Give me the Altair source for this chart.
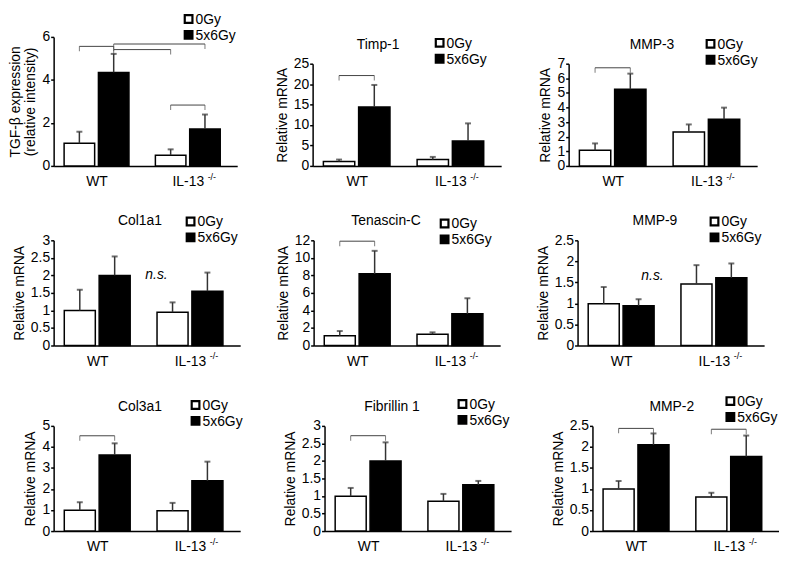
import altair as alt
import pandas as pd

FONT = "Liberation Sans"

panels = ["TGF-β", "Timp-1", "MMP-3", "Col1a1", "Tenascin-C", "MMP-9",
          "Col3a1", "Fibrillin 1", "MMP-2"]
panel_titles = ["", "Timp-1", "MMP-3", "Col1a1", "Tenascin-C", "MMP-9",
                "Col3a1", "Fibrillin 1", "MMP-2"]
groups = ["WT", "IL-13"]
doses = ["0Gy", "5x6Gy"]

# bar heights [WT, IL-13] per panel
mean_0gy = [[1.05, 0.50], [1.09, 1.55], [1.07, 2.33], [1.00, 0.95], [1.10, 1.28],
            [0.99, 1.46], [0.99, 0.96], [0.99, 0.85], [1.00, 0.81]]
mean_5x6 = [[4.35, 1.72], [14.4, 6.1], [5.25, 3.20], [2.00, 1.55], [8.18, 3.63],
            [0.945, 1.61], [3.62, 2.39], [2.00, 1.32], [2.05, 1.77]]
# upper error bar lengths
err_0gy = [[0.54, 0.27], [0.46, 0.65], [0.47, 0.51], [0.59, 0.28], [0.55, 0.22],
           [0.40, 0.45], [0.38, 0.38], [0.24, 0.21], [0.19, 0.10]]
err_5x6 = [[0.86, 0.67], [5.4, 4.3], [1.07, 0.79], [0.54, 0.53], [2.62, 1.76],
           [0.155, 0.34], [0.55, 0.91], [0.53, 0.11], [0.27, 0.50]]

y_max = [6, 25, 7, 3, 12, 2.5, 5, 3, 2.5]
y_step = [2, 5, 1, 0.5, 2, 0.5, 1, 0.5, 0.5]
y_titles = [["TGF-β expression", "(relative intensity)"]] + ["Relative mRNA"] * 8

# significance brackets: panel, from bar, to bar, height
br_panel = ["TGF-β", "TGF-β", "TGF-β", "TGF-β", "Timp-1", "MMP-3", "Tenascin-C",
            "Col3a1", "Fibrillin 1", "MMP-2", "MMP-2"]
br_from = ["WT|0Gy", "WT|5x6Gy", "WT|5x6Gy", "IL-13|0Gy", "WT|0Gy", "WT|0Gy", "WT|0Gy",
           "WT|0Gy", "WT|0Gy", "WT|0Gy", "IL-13|0Gy"]
br_to = ["WT|5x6Gy", "IL-13|5x6Gy", "IL-13|0Gy", "IL-13|5x6Gy", "WT|5x6Gy", "WT|5x6Gy",
         "WT|5x6Gy", "WT|5x6Gy", "WT|5x6Gy", "WT|5x6Gy", "IL-13|5x6Gy"]
br_y = [5.56, 5.67, 5.41, 2.83, 22.1, 6.72, 11.9, 4.53, 2.72, 2.44, 2.42]

# "n.s." annotations
ns_panel = ["Col1a1", "MMP-9"]
ns_x = [2.2, 1.4]
ns_y = [2.0, 1.65]

# ---- layout (not data) ----
GAP = 2.66
HALF = 0.445
XDOM = [-0.75, 4.6]
layout = {
    "TGF-β":       dict(w=185, h=130, top=0,  lx=131, ly=-25, tx=None),
    "Timp-1":      dict(w=190, h=130, top=27, lx=123, ly=-1,  tx=66),
    "MMP-3":       dict(w=190, h=130, top=27, lx=138, ly=0,   tx=84),
    "Col1a1":      dict(w=188, h=106, top=0,  lx=133, ly=-26, tx=87),
    "Tenascin-C":  dict(w=188, h=106, top=0,  lx=127, ly=-24, tx=73),
    "MMP-9":       dict(w=188, h=106, top=0,  lx=133, ly=-26, tx=78),
    "Col3a1":      dict(w=188, h=106, top=0,  lx=138, ly=-28, tx=87),
    "Fibrillin 1": dict(w=188, h=106, top=0,  lx=134, ly=-29, tx=68),
    "MMP-2":       dict(w=188, h=106, top=0,  lx=134, ly=-32, tx=80),
}


def bar_pos(key):
    g, d = key.split("|")
    return groups.index(g) * GAP + doses.index(d)


def make_panel(i):
    name = panels[i]
    lay = layout[name]
    W, H = lay["w"], lay["h"]
    rows = []
    for gi, g in enumerate(groups):
        for di, d in enumerate(doses):
            m = (mean_0gy if di == 0 else mean_5x6)[i][gi]
            e = (err_0gy if di == 0 else err_5x6)[i][gi]
            rows.append(dict(group=g, dose=d, pos=gi * GAP + di, mean=m, top=m + e))
    df = pd.DataFrame(rows)

    xsc = alt.Scale(domain=XDOM, nice=False, zero=False)
    ysc = alt.Scale(domain=[0, y_max[i]], nice=False, range=[H, lay["top"]])
    fsc = alt.Scale(domain=doses, range=["white", "black"])
    n = int(round(y_max[i] / y_step[i]))
    yvals = [round(k * y_step[i], 3) for k in range(n + 1)]
    yaxis = alt.Axis(values=yvals, format="~g", title=y_titles[i], grid=False,
                     tickSize=3, labelPadding=1, titlePadding=4)
    xaxis = alt.Axis(values=[0.5, GAP + 0.5], title=None, grid=False, ticks=False,
                     labelExpr="datum.value < 2 ? 'WT' : 'IL-13'", labelPadding=9,
                     labelAngle=0)

    def X(f):
        return alt.X(f, scale=xsc, axis=xaxis)

    def Y(f):
        return alt.Y(f, scale=ysc, axis=yaxis)

    base = alt.Chart(df)
    bars = base.transform_calculate(
        x1=f"datum.pos - {HALF}", x2=f"datum.pos + {HALF}", zero="0"
    ).mark_bar(stroke="black", strokeWidth=1.5).encode(
        x=X("x1:Q"), x2="x2:Q", y=Y("mean:Q"), y2="zero:Q",
        fill=alt.Fill("dose:N", scale=fsc, legend=None),
    )
    errs = base.mark_rule(color="#333333", strokeWidth=1.5).encode(
        x=X("pos:Q"), y=Y("mean:Q"), y2="top:Q")
    caps = base.mark_tick(orient="horizontal", size=6, thickness=2, color="#333333").encode(
        x=X("pos:Q"), y=Y("top:Q"))
    layers = [bars, errs, caps]

    bsel = [k for k, p in enumerate(br_panel) if p == name]
    if bsel:
        dfb = pd.DataFrame(dict(xa=[bar_pos(br_from[k]) for k in bsel],
                                xb=[bar_pos(br_to[k]) for k in bsel],
                                y=[br_y[k] for k in bsel]))
        bb = alt.Chart(dfb)
        layers.append(bb.mark_rule(color="#444444", strokeWidth=1).encode(
            x=X("xa:Q"), x2="xb:Q", y=Y("y:Q")))
        layers.append(bb.transform_fold(["xa", "xb"], as_=["end", "xe"]).mark_tick(
            orient="vertical", size=5, thickness=1, yOffset=2.5, color="#444444").encode(
            x=X("xe:Q"), y=Y("y:Q")))

    nsel = [k for k, p in enumerate(ns_panel) if p == name]
    if nsel:
        dfn = pd.DataFrame(dict(x=[ns_x[k] for k in nsel], y=[ns_y[k] for k in nsel],
                                t=["n.s."] * len(nsel)))
        layers.append(alt.Chart(dfn).mark_text(fontStyle="italic", fontSize=14, font=FONT,
                                               color="black").encode(
            x=X("x:Q"), y=Y("y:Q"), text="t:N"))

    # superscript of the knockout label
    dfs = pd.DataFrame(dict(x=[GAP + 0.5], t=["-/-"]))
    layers.append(alt.Chart(dfs).mark_text(fontSize=9, font=FONT, align="left",
                                           baseline="top", dx=20, color="black").encode(
        x=X("x:Q"), y=alt.value(H + 7), text="t:N"))

    # legend (square key + label for each dose)
    for k, d in enumerate(doses):
        dl = alt.Chart(pd.DataFrame({"dose": [d]}))
        cy = lay["ly"] + 7 + 16 * k
        layers.append(dl.mark_square(size=60, stroke="black", strokeWidth=2.2,
                                     opacity=1).encode(
            x=alt.value(lay["lx"] + 5), y=alt.value(cy),
            fill=alt.Fill("dose:N", scale=fsc, legend=None)))
        layers.append(dl.mark_text(fontSize=14, font=FONT, align="left", baseline="middle",
                                   color="black").encode(
            x=alt.value(lay["lx"] + 12), y=alt.value(cy + 1), text="dose:N"))

    if lay["tx"] is not None:
        dft = pd.DataFrame(dict(t=[panel_titles[i]]))
        layers.append(alt.Chart(dft).mark_text(fontSize=14, font=FONT, align="center",
                                               baseline="alphabetic", color="black").encode(
            x=alt.value(lay["tx"]), y=alt.value(lay["top"] - 15), text="t:N"))

    return alt.layer(*layers).properties(width=W, height=H)


def row(idx, spacing):
    return alt.hconcat(*[make_panel(i) for i in idx], spacing=spacing).resolve_scale(
        x="independent", y="independent", fill="independent")


chart = alt.vconcat(row([0, 1, 2], 38), row([3, 4, 5], 36), row([6, 7, 8], 40),
                    spacing=24).resolve_scale(
    x="independent", y="independent", fill="independent"
).properties(padding=0).configure_view(stroke=None).configure_axis(
    labelFont=FONT, titleFont=FONT, labelFontSize=14, titleFontSize=14,
    titleFontWeight="normal", labelColor="black", titleColor="black",
    domainColor="black", domainWidth=1.5, tickColor="black", tickWidth=1.5
)

chart.save("out.html", embed_options={"renderer": "svg", "actions": False})
